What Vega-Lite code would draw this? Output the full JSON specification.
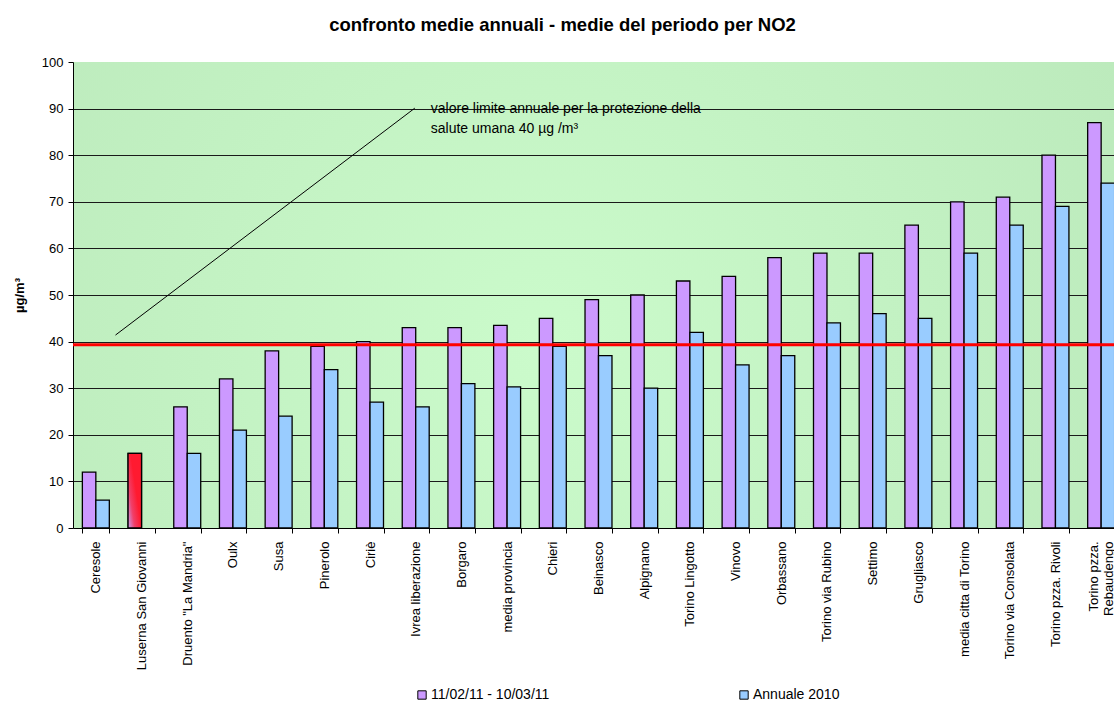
{
  "$schema": "https://vega.github.io/schema/vega-lite/v6.json",
  "autosize": {"type": "none"},
  "padding": {"left": 73, "top": 62, "right": 0, "bottom": 173},
  "width": 1051,
  "height": 466,
  "background": "white",
  "title": {
    "text": "confronto medie annuali - medie del periodo per NO2",
    "font": "Liberation Sans",
    "fontSize": 18.5,
    "fontWeight": "bold",
    "color": "black",
    "anchor": "middle",
    "dx": -36,
    "offset": 22
  },
  "config": {
    "font": "Liberation Sans",
    "view": {
      "stroke": null,
      "fill": {
        "gradient": "radial",
        "x1": 0.45, "y1": 0.55, "r1": 0,
        "x2": 0.45, "y2": 0.55, "r2": 0.65,
        "stops": [
          {"offset": 0, "color": "#cbfbcb"},
          {"offset": 1, "color": "#bbe9bb"}
        ]
      }
    }
  },
  "datasets": {
    "medie": [
      {"stazione": "Ceresole", "serie": "11/02/11 - 10/03/11", "valore": 12, "evidenza": false},
      {"stazione": "Ceresole", "serie": "Annuale 2010", "valore": 6, "evidenza": false},
      {"stazione": "Luserna San Giovanni", "serie": "11/02/11 - 10/03/11", "valore": 16, "evidenza": true},
      {"stazione": "Druento \"La Mandria\"", "serie": "11/02/11 - 10/03/11", "valore": 26, "evidenza": false},
      {"stazione": "Druento \"La Mandria\"", "serie": "Annuale 2010", "valore": 16, "evidenza": false},
      {"stazione": "Oulx", "serie": "11/02/11 - 10/03/11", "valore": 32, "evidenza": false},
      {"stazione": "Oulx", "serie": "Annuale 2010", "valore": 21, "evidenza": false},
      {"stazione": "Susa", "serie": "11/02/11 - 10/03/11", "valore": 38, "evidenza": false},
      {"stazione": "Susa", "serie": "Annuale 2010", "valore": 24, "evidenza": false},
      {"stazione": "Pinerolo", "serie": "11/02/11 - 10/03/11", "valore": 39, "evidenza": false},
      {"stazione": "Pinerolo", "serie": "Annuale 2010", "valore": 34, "evidenza": false},
      {"stazione": "Ciriè", "serie": "11/02/11 - 10/03/11", "valore": 40, "evidenza": false},
      {"stazione": "Ciriè", "serie": "Annuale 2010", "valore": 27, "evidenza": false},
      {"stazione": "Ivrea liberazione", "serie": "11/02/11 - 10/03/11", "valore": 43, "evidenza": false},
      {"stazione": "Ivrea liberazione", "serie": "Annuale 2010", "valore": 26, "evidenza": false},
      {"stazione": "Borgaro", "serie": "11/02/11 - 10/03/11", "valore": 43, "evidenza": false},
      {"stazione": "Borgaro", "serie": "Annuale 2010", "valore": 31, "evidenza": false},
      {"stazione": "media provincia", "serie": "11/02/11 - 10/03/11", "valore": 43.5, "evidenza": false},
      {"stazione": "media provincia", "serie": "Annuale 2010", "valore": 30.3, "evidenza": false},
      {"stazione": "Chieri", "serie": "11/02/11 - 10/03/11", "valore": 45, "evidenza": false},
      {"stazione": "Chieri", "serie": "Annuale 2010", "valore": 39, "evidenza": false},
      {"stazione": "Beinasco", "serie": "11/02/11 - 10/03/11", "valore": 49, "evidenza": false},
      {"stazione": "Beinasco", "serie": "Annuale 2010", "valore": 37, "evidenza": false},
      {"stazione": "Alpignano", "serie": "11/02/11 - 10/03/11", "valore": 50, "evidenza": false},
      {"stazione": "Alpignano", "serie": "Annuale 2010", "valore": 30, "evidenza": false},
      {"stazione": "Torino Lingotto", "serie": "11/02/11 - 10/03/11", "valore": 53, "evidenza": false},
      {"stazione": "Torino Lingotto", "serie": "Annuale 2010", "valore": 42, "evidenza": false},
      {"stazione": "Vinovo", "serie": "11/02/11 - 10/03/11", "valore": 54, "evidenza": false},
      {"stazione": "Vinovo", "serie": "Annuale 2010", "valore": 35, "evidenza": false},
      {"stazione": "Orbassano", "serie": "11/02/11 - 10/03/11", "valore": 58, "evidenza": false},
      {"stazione": "Orbassano", "serie": "Annuale 2010", "valore": 37, "evidenza": false},
      {"stazione": "Torino via Rubino", "serie": "11/02/11 - 10/03/11", "valore": 59, "evidenza": false},
      {"stazione": "Torino via Rubino", "serie": "Annuale 2010", "valore": 44, "evidenza": false},
      {"stazione": "Settimo", "serie": "11/02/11 - 10/03/11", "valore": 59, "evidenza": false},
      {"stazione": "Settimo", "serie": "Annuale 2010", "valore": 46, "evidenza": false},
      {"stazione": "Grugliasco", "serie": "11/02/11 - 10/03/11", "valore": 65, "evidenza": false},
      {"stazione": "Grugliasco", "serie": "Annuale 2010", "valore": 45, "evidenza": false},
      {"stazione": "media citta di Torino", "serie": "11/02/11 - 10/03/11", "valore": 70, "evidenza": false},
      {"stazione": "media citta di Torino", "serie": "Annuale 2010", "valore": 59, "evidenza": false},
      {"stazione": "Torino via Consolata", "serie": "11/02/11 - 10/03/11", "valore": 71, "evidenza": false},
      {"stazione": "Torino via Consolata", "serie": "Annuale 2010", "valore": 65, "evidenza": false},
      {"stazione": "Torino pzza. Rivoli", "serie": "11/02/11 - 10/03/11", "valore": 80, "evidenza": false},
      {"stazione": "Torino pzza. Rivoli", "serie": "Annuale 2010", "valore": 69, "evidenza": false},
      {"stazione": "Torino pzza. Rebaudengo", "serie": "11/02/11 - 10/03/11", "valore": 87, "evidenza": false},
      {"stazione": "Torino pzza. Rebaudengo", "serie": "Annuale 2010", "valore": 74, "evidenza": false}
    ]
  },
  "layer": [
    {
      "data": {"name": "medie"},
      "layer": [
        {
          "mark": {"type": "bar", "stroke": "black", "strokeWidth": 1.3},
          "encoding": {
            "x": {
              "field": "stazione", "type": "nominal", "sort": null, "title": null,
              "scale": {"paddingInner": 0.41, "paddingOuter": 0.205},
              "axis": {
                "labelAngle": -90, "labelFontSize": 13, "labelColor": "black", "labelPadding": 8,
                "domainColor": "black", "tickColor": "black", "tickSize": 5, "tickBand": "extent",
                "labelExpr": "datum.value == 'Torino pzza. Rebaudengo' ? ['Torino pzza.', 'Rebaudengo'] : datum.label",
                "labelOffset": {"condition": {"test": "datum.value == 'Torino pzza. Rebaudengo'", "value": -8}, "value": 0},
                "labelLimit": 200
              }
            },
            "xOffset": {"field": "serie", "type": "nominal", "sort": ["11/02/11 - 10/03/11", "Annuale 2010"]},
            "y": {
              "field": "valore", "type": "quantitative",
              "scale": {"domain": [0, 100], "nice": false, "zero": true},
              "axis": {
                "title": "µg/m³", "titleFontSize": 13, "titleFontWeight": "bold", "titleColor": "black", "titlePadding": 15,
                "values": [0, 10, 20, 30, 40, 50, 60, 70, 80, 90, 100],
                "labelFontSize": 13, "labelColor": "black", "labelPadding": 5,
                "domainColor": "black", "tickColor": "black", "tickSize": 5,
                "grid": true, "gridColor": "#1a1a1a", "gridWidth": 1,
                "gridOpacity": {"condition": {"test": "datum.value == 100 || datum.value == 0", "value": 0}, "value": 1}
              }
            },
            "color": {
              "field": "serie", "type": "nominal",
              "scale": {"domain": ["11/02/11 - 10/03/11", "Annuale 2010"], "range": ["#cc99ff", "#99ccff"]},
              "legend": {
                "title": null, "orient": "none", "direction": "horizontal", "columns": 2,
                "legendX": 342, "legendY": 626, "columnPadding": 187,
                "symbolType": "square", "symbolSize": 70, "symbolStrokeColor": "black", "symbolStrokeWidth": 1,
                "labelFontSize": 14, "labelColor": "black", "labelOffset": 2
              }
            }
          }
        },
        {
          "transform": [{"filter": "datum.evidenza"}],
          "mark": {
            "type": "bar", "stroke": "black", "strokeWidth": 1.3,
            "color": {
              "gradient": "linear", "x1": 0, "y1": 1, "x2": 0.6, "y2": 0.5,
              "stops": [
                {"offset": 0, "color": "#c8a0f5"},
                {"offset": 0.5, "color": "#f0406a"},
                {"offset": 1, "color": "#ff1a30"}
              ]
            }
          },
          "encoding": {
            "x": {"field": "stazione", "type": "nominal", "sort": null},
            "xOffset": {"field": "serie", "type": "nominal", "sort": ["11/02/11 - 10/03/11", "Annuale 2010"]},
            "y": {"field": "valore", "type": "quantitative"}
          }
        },
        {
          "data": {"values": [{"limite": 39.3}]},
          "mark": {"type": "rule", "color": "#ff0000", "strokeWidth": 3},
          "encoding": {"y": {"field": "limite", "type": "quantitative"}}
        }
      ]
    },
    {
      "data": {"values": [{"xa": 0.93, "ya": 41.4, "xb": 7.48, "yb": 90.1, "testo": ["valore limite annuale per la protezione della", "salute umana 40 µg /m³"], "xt": 7.83, "yt": 90}]},
      "layer": [
        {
          "mark": {"type": "rule", "color": "black", "strokeWidth": 1},
          "encoding": {
            "x": {"field": "xa", "type": "quantitative", "scale": {"domain": [0, 23]}, "axis": null},
            "x2": {"field": "xb"},
            "y": {"field": "ya", "type": "quantitative"},
            "y2": {"field": "yb"}
          }
        },
        {
          "mark": {"type": "text", "align": "left", "baseline": "middle", "fontSize": 14, "lineHeight": 20, "color": "black", "font": "Liberation Sans"},
          "encoding": {
            "x": {"field": "xt", "type": "quantitative", "scale": {"domain": [0, 23]}, "axis": null},
            "y": {"field": "yt", "type": "quantitative"},
            "text": {"field": "testo"}
          }
        }
      ]
    }
  ],
  "resolve": {"scale": {"x": "independent"}, "axis": {"x": "independent"}}
}
